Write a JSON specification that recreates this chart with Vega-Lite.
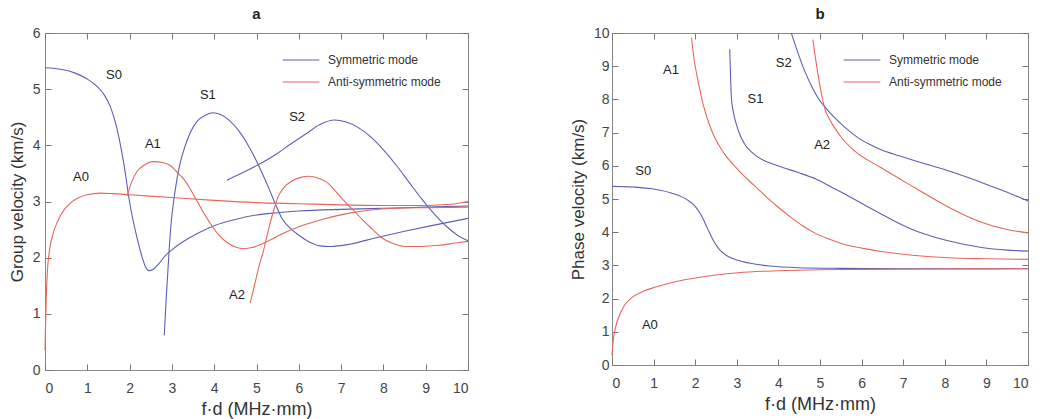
{
  "$schema": "https://vega.github.io/schema/vega-lite/v6.json",
  "padding": {"left": 7, "top": 6, "right": 4, "bottom": 0},
  "background": "white",
  "config": {
    "font": "Liberation Sans",
    "view": {"stroke": "#888", "strokeWidth": 1},
    "axis": {"grid": false, "domain": false, "offset": -6, "tickSize": 6, "tickColor": "#777", "tickWidth": 1, "labelColor": "#444", "labelFontSize": 14, "titleFontSize": 18, "titleFontWeight": "normal", "titleColor": "#333"},
    "title": {"fontSize": 15, "fontWeight": "bold", "offset": 4, "color": "#222"},
    "legend": {"labelFontSize": 12, "labelColor": "#333"}
  },
  "datasets": {
    "curves": [
      {"p":"a","m":"S0","t":"Symmetric mode","x":0,"y":5.38},{"p":"a","m":"S0","t":"Symmetric mode","x":0.4,"y":5.35},{"p":"a","m":"S0","t":"Symmetric mode","x":0.7,"y":5.29},{"p":"a","m":"S0","t":"Symmetric mode","x":1.0,"y":5.18},{"p":"a","m":"S0","t":"Symmetric mode","x":1.2,"y":5.07},{"p":"a","m":"S0","t":"Symmetric mode","x":1.4,"y":4.9},{"p":"a","m":"S0","t":"Symmetric mode","x":1.55,"y":4.68},{"p":"a","m":"S0","t":"Symmetric mode","x":1.7,"y":4.3},{"p":"a","m":"S0","t":"Symmetric mode","x":1.8,"y":3.94},{"p":"a","m":"S0","t":"Symmetric mode","x":1.9,"y":3.5},{"p":"a","m":"S0","t":"Symmetric mode","x":1.98,"y":3.08},{"p":"a","m":"S0","t":"Symmetric mode","x":2.1,"y":2.6},{"p":"a","m":"S0","t":"Symmetric mode","x":2.2,"y":2.28},{"p":"a","m":"S0","t":"Symmetric mode","x":2.3,"y":2.0},{"p":"a","m":"S0","t":"Symmetric mode","x":2.38,"y":1.83},{"p":"a","m":"S0","t":"Symmetric mode","x":2.45,"y":1.77},{"p":"a","m":"S0","t":"Symmetric mode","x":2.55,"y":1.79},{"p":"a","m":"S0","t":"Symmetric mode","x":2.7,"y":1.9},{"p":"a","m":"S0","t":"Symmetric mode","x":2.85,"y":2.04},{"p":"a","m":"S0","t":"Symmetric mode","x":3.0,"y":2.14},{"p":"a","m":"S0","t":"Symmetric mode","x":3.3,"y":2.3},{"p":"a","m":"S0","t":"Symmetric mode","x":3.6,"y":2.43},{"p":"a","m":"S0","t":"Symmetric mode","x":4.0,"y":2.57},{"p":"a","m":"S0","t":"Symmetric mode","x":4.5,"y":2.68},{"p":"a","m":"S0","t":"Symmetric mode","x":5.0,"y":2.76},{"p":"a","m":"S0","t":"Symmetric mode","x":5.5,"y":2.8},{"p":"a","m":"S0","t":"Symmetric mode","x":6,"y":2.83},{"p":"a","m":"S0","t":"Symmetric mode","x":7,"y":2.86},{"p":"a","m":"S0","t":"Symmetric mode","x":8,"y":2.88},{"p":"a","m":"S0","t":"Symmetric mode","x":9,"y":2.9},{"p":"a","m":"S0","t":"Symmetric mode","x":10,"y":2.92},

      {"p":"a","m":"S1","t":"Symmetric mode","x":2.82,"y":0.62},{"p":"a","m":"S1","t":"Symmetric mode","x":2.86,"y":1.2},{"p":"a","m":"S1","t":"Symmetric mode","x":2.9,"y":1.7},{"p":"a","m":"S1","t":"Symmetric mode","x":2.94,"y":2.2},{"p":"a","m":"S1","t":"Symmetric mode","x":2.98,"y":2.6},{"p":"a","m":"S1","t":"Symmetric mode","x":3.04,"y":3.0},{"p":"a","m":"S1","t":"Symmetric mode","x":3.12,"y":3.4},{"p":"a","m":"S1","t":"Symmetric mode","x":3.2,"y":3.7},{"p":"a","m":"S1","t":"Symmetric mode","x":3.3,"y":3.96},{"p":"a","m":"S1","t":"Symmetric mode","x":3.45,"y":4.25},{"p":"a","m":"S1","t":"Symmetric mode","x":3.6,"y":4.43},{"p":"a","m":"S1","t":"Symmetric mode","x":3.8,"y":4.54},{"p":"a","m":"S1","t":"Symmetric mode","x":3.97,"y":4.58},{"p":"a","m":"S1","t":"Symmetric mode","x":4.15,"y":4.55},{"p":"a","m":"S1","t":"Symmetric mode","x":4.35,"y":4.45},{"p":"a","m":"S1","t":"Symmetric mode","x":4.6,"y":4.24},{"p":"a","m":"S1","t":"Symmetric mode","x":4.85,"y":3.94},{"p":"a","m":"S1","t":"Symmetric mode","x":5.1,"y":3.56},{"p":"a","m":"S1","t":"Symmetric mode","x":5.3,"y":3.22},{"p":"a","m":"S1","t":"Symmetric mode","x":5.45,"y":2.95},{"p":"a","m":"S1","t":"Symmetric mode","x":5.6,"y":2.7},{"p":"a","m":"S1","t":"Symmetric mode","x":5.8,"y":2.52},{"p":"a","m":"S1","t":"Symmetric mode","x":6.0,"y":2.4},{"p":"a","m":"S1","t":"Symmetric mode","x":6.25,"y":2.28},{"p":"a","m":"S1","t":"Symmetric mode","x":6.5,"y":2.21},{"p":"a","m":"S1","t":"Symmetric mode","x":6.75,"y":2.2},{"p":"a","m":"S1","t":"Symmetric mode","x":7.2,"y":2.24},{"p":"a","m":"S1","t":"Symmetric mode","x":7.8,"y":2.35},{"p":"a","m":"S1","t":"Symmetric mode","x":8.5,"y":2.47},{"p":"a","m":"S1","t":"Symmetric mode","x":9.2,"y":2.58},{"p":"a","m":"S1","t":"Symmetric mode","x":10,"y":2.7},

      {"p":"a","m":"S2","t":"Symmetric mode","x":4.3,"y":3.38},{"p":"a","m":"S2","t":"Symmetric mode","x":4.8,"y":3.56},{"p":"a","m":"S2","t":"Symmetric mode","x":5.2,"y":3.72},{"p":"a","m":"S2","t":"Symmetric mode","x":5.5,"y":3.86},{"p":"a","m":"S2","t":"Symmetric mode","x":5.8,"y":4.02},{"p":"a","m":"S2","t":"Symmetric mode","x":6.2,"y":4.22},{"p":"a","m":"S2","t":"Symmetric mode","x":6.5,"y":4.37},{"p":"a","m":"S2","t":"Symmetric mode","x":6.85,"y":4.45},{"p":"a","m":"S2","t":"Symmetric mode","x":7.1,"y":4.42},{"p":"a","m":"S2","t":"Symmetric mode","x":7.4,"y":4.32},{"p":"a","m":"S2","t":"Symmetric mode","x":7.7,"y":4.15},{"p":"a","m":"S2","t":"Symmetric mode","x":8.0,"y":3.92},{"p":"a","m":"S2","t":"Symmetric mode","x":8.3,"y":3.65},{"p":"a","m":"S2","t":"Symmetric mode","x":8.6,"y":3.35},{"p":"a","m":"S2","t":"Symmetric mode","x":8.9,"y":3.05},{"p":"a","m":"S2","t":"Symmetric mode","x":9.2,"y":2.78},{"p":"a","m":"S2","t":"Symmetric mode","x":9.5,"y":2.55},{"p":"a","m":"S2","t":"Symmetric mode","x":9.75,"y":2.4},{"p":"a","m":"S2","t":"Symmetric mode","x":10,"y":2.3},

      {"p":"a","m":"A0","t":"Anti-symmetric mode","x":0,"y":0.35},{"p":"a","m":"A0","t":"Anti-symmetric mode","x":0.01,"y":0.7},{"p":"a","m":"A0","t":"Anti-symmetric mode","x":0.03,"y":1.3},{"p":"a","m":"A0","t":"Anti-symmetric mode","x":0.06,"y":1.8},{"p":"a","m":"A0","t":"Anti-symmetric mode","x":0.1,"y":2.1},{"p":"a","m":"A0","t":"Anti-symmetric mode","x":0.2,"y":2.45},{"p":"a","m":"A0","t":"Anti-symmetric mode","x":0.3,"y":2.65},{"p":"a","m":"A0","t":"Anti-symmetric mode","x":0.45,"y":2.85},{"p":"a","m":"A0","t":"Anti-symmetric mode","x":0.6,"y":2.97},{"p":"a","m":"A0","t":"Anti-symmetric mode","x":0.8,"y":3.07},{"p":"a","m":"A0","t":"Anti-symmetric mode","x":1.0,"y":3.12},{"p":"a","m":"A0","t":"Anti-symmetric mode","x":1.3,"y":3.15},{"p":"a","m":"A0","t":"Anti-symmetric mode","x":1.6,"y":3.14},{"p":"a","m":"A0","t":"Anti-symmetric mode","x":2.0,"y":3.12},{"p":"a","m":"A0","t":"Anti-symmetric mode","x":3,"y":3.07},{"p":"a","m":"A0","t":"Anti-symmetric mode","x":4,"y":3.02},{"p":"a","m":"A0","t":"Anti-symmetric mode","x":5,"y":2.98},{"p":"a","m":"A0","t":"Anti-symmetric mode","x":6,"y":2.96},{"p":"a","m":"A0","t":"Anti-symmetric mode","x":7,"y":2.94},{"p":"a","m":"A0","t":"Anti-symmetric mode","x":8,"y":2.93},{"p":"a","m":"A0","t":"Anti-symmetric mode","x":9,"y":2.93},{"p":"a","m":"A0","t":"Anti-symmetric mode","x":9.6,"y":2.95},{"p":"a","m":"A0","t":"Anti-symmetric mode","x":10,"y":3.0},

      {"p":"a","m":"A1","t":"Anti-symmetric mode","x":1.94,"y":3.1},{"p":"a","m":"A1","t":"Anti-symmetric mode","x":2.05,"y":3.35},{"p":"a","m":"A1","t":"Anti-symmetric mode","x":2.17,"y":3.53},{"p":"a","m":"A1","t":"Anti-symmetric mode","x":2.35,"y":3.65},{"p":"a","m":"A1","t":"Anti-symmetric mode","x":2.57,"y":3.71},{"p":"a","m":"A1","t":"Anti-symmetric mode","x":2.8,"y":3.69},{"p":"a","m":"A1","t":"Anti-symmetric mode","x":2.96,"y":3.64},{"p":"a","m":"A1","t":"Anti-symmetric mode","x":3.15,"y":3.5},{"p":"a","m":"A1","t":"Anti-symmetric mode","x":3.3,"y":3.38},{"p":"a","m":"A1","t":"Anti-symmetric mode","x":3.45,"y":3.2},{"p":"a","m":"A1","t":"Anti-symmetric mode","x":3.6,"y":3.0},{"p":"a","m":"A1","t":"Anti-symmetric mode","x":3.75,"y":2.8},{"p":"a","m":"A1","t":"Anti-symmetric mode","x":3.9,"y":2.62},{"p":"a","m":"A1","t":"Anti-symmetric mode","x":4.1,"y":2.41},{"p":"a","m":"A1","t":"Anti-symmetric mode","x":4.3,"y":2.27},{"p":"a","m":"A1","t":"Anti-symmetric mode","x":4.5,"y":2.19},{"p":"a","m":"A1","t":"Anti-symmetric mode","x":4.7,"y":2.16},{"p":"a","m":"A1","t":"Anti-symmetric mode","x":4.9,"y":2.18},{"p":"a","m":"A1","t":"Anti-symmetric mode","x":5.2,"y":2.27},{"p":"a","m":"A1","t":"Anti-symmetric mode","x":5.6,"y":2.42},{"p":"a","m":"A1","t":"Anti-symmetric mode","x":6.0,"y":2.55},{"p":"a","m":"A1","t":"Anti-symmetric mode","x":6.5,"y":2.67},{"p":"a","m":"A1","t":"Anti-symmetric mode","x":7.1,"y":2.78},{"p":"a","m":"A1","t":"Anti-symmetric mode","x":7.7,"y":2.85},{"p":"a","m":"A1","t":"Anti-symmetric mode","x":8.3,"y":2.88},{"p":"a","m":"A1","t":"Anti-symmetric mode","x":9,"y":2.89},{"p":"a","m":"A1","t":"Anti-symmetric mode","x":10,"y":2.9},

      {"p":"a","m":"A2","t":"Anti-symmetric mode","x":4.85,"y":1.19},{"p":"a","m":"A2","t":"Anti-symmetric mode","x":4.95,"y":1.5},{"p":"a","m":"A2","t":"Anti-symmetric mode","x":5.05,"y":1.82},{"p":"a","m":"A2","t":"Anti-symmetric mode","x":5.17,"y":2.14},{"p":"a","m":"A2","t":"Anti-symmetric mode","x":5.3,"y":2.55},{"p":"a","m":"A2","t":"Anti-symmetric mode","x":5.42,"y":2.88},{"p":"a","m":"A2","t":"Anti-symmetric mode","x":5.52,"y":3.1},{"p":"a","m":"A2","t":"Anti-symmetric mode","x":5.65,"y":3.25},{"p":"a","m":"A2","t":"Anti-symmetric mode","x":5.85,"y":3.37},{"p":"a","m":"A2","t":"Anti-symmetric mode","x":6.05,"y":3.43},{"p":"a","m":"A2","t":"Anti-symmetric mode","x":6.25,"y":3.45},{"p":"a","m":"A2","t":"Anti-symmetric mode","x":6.45,"y":3.42},{"p":"a","m":"A2","t":"Anti-symmetric mode","x":6.65,"y":3.35},{"p":"a","m":"A2","t":"Anti-symmetric mode","x":6.85,"y":3.2},{"p":"a","m":"A2","t":"Anti-symmetric mode","x":7.0,"y":3.07},{"p":"a","m":"A2","t":"Anti-symmetric mode","x":7.15,"y":2.95},{"p":"a","m":"A2","t":"Anti-symmetric mode","x":7.35,"y":2.8},{"p":"a","m":"A2","t":"Anti-symmetric mode","x":7.55,"y":2.64},{"p":"a","m":"A2","t":"Anti-symmetric mode","x":7.75,"y":2.5},{"p":"a","m":"A2","t":"Anti-symmetric mode","x":7.95,"y":2.36},{"p":"a","m":"A2","t":"Anti-symmetric mode","x":8.2,"y":2.26},{"p":"a","m":"A2","t":"Anti-symmetric mode","x":8.5,"y":2.2},{"p":"a","m":"A2","t":"Anti-symmetric mode","x":8.9,"y":2.2},{"p":"a","m":"A2","t":"Anti-symmetric mode","x":9.3,"y":2.22},{"p":"a","m":"A2","t":"Anti-symmetric mode","x":9.7,"y":2.26},{"p":"a","m":"A2","t":"Anti-symmetric mode","x":10,"y":2.29},

      {"p":"b","m":"S0","t":"Symmetric mode","x":0,"y":5.38},{"p":"b","m":"S0","t":"Symmetric mode","x":0.5,"y":5.36},{"p":"b","m":"S0","t":"Symmetric mode","x":1.0,"y":5.3},{"p":"b","m":"S0","t":"Symmetric mode","x":1.5,"y":5.15},{"p":"b","m":"S0","t":"Symmetric mode","x":1.8,"y":4.98},{"p":"b","m":"S0","t":"Symmetric mode","x":2.0,"y":4.78},{"p":"b","m":"S0","t":"Symmetric mode","x":2.15,"y":4.5},{"p":"b","m":"S0","t":"Symmetric mode","x":2.3,"y":4.1},{"p":"b","m":"S0","t":"Symmetric mode","x":2.45,"y":3.72},{"p":"b","m":"S0","t":"Symmetric mode","x":2.6,"y":3.45},{"p":"b","m":"S0","t":"Symmetric mode","x":2.75,"y":3.3},{"p":"b","m":"S0","t":"Symmetric mode","x":3.0,"y":3.16},{"p":"b","m":"S0","t":"Symmetric mode","x":3.3,"y":3.07},{"p":"b","m":"S0","t":"Symmetric mode","x":3.8,"y":2.98},{"p":"b","m":"S0","t":"Symmetric mode","x":4.47,"y":2.93},{"p":"b","m":"S0","t":"Symmetric mode","x":5.5,"y":2.91},{"p":"b","m":"S0","t":"Symmetric mode","x":7,"y":2.9},{"p":"b","m":"S0","t":"Symmetric mode","x":10,"y":2.9},

      {"p":"b","m":"S1","t":"Symmetric mode","x":2.83,"y":9.51},{"p":"b","m":"S1","t":"Symmetric mode","x":2.85,"y":8.7},{"p":"b","m":"S1","t":"Symmetric mode","x":2.87,"y":8.05},{"p":"b","m":"S1","t":"Symmetric mode","x":2.92,"y":7.6},{"p":"b","m":"S1","t":"Symmetric mode","x":2.99,"y":7.25},{"p":"b","m":"S1","t":"Symmetric mode","x":3.08,"y":6.92},{"p":"b","m":"S1","t":"Symmetric mode","x":3.19,"y":6.65},{"p":"b","m":"S1","t":"Symmetric mode","x":3.35,"y":6.42},{"p":"b","m":"S1","t":"Symmetric mode","x":3.51,"y":6.26},{"p":"b","m":"S1","t":"Symmetric mode","x":3.99,"y":6.0},{"p":"b","m":"S1","t":"Symmetric mode","x":4.47,"y":5.8},{"p":"b","m":"S1","t":"Symmetric mode","x":4.9,"y":5.6},{"p":"b","m":"S1","t":"Symmetric mode","x":5.27,"y":5.36},{"p":"b","m":"S1","t":"Symmetric mode","x":5.67,"y":5.1},{"p":"b","m":"S1","t":"Symmetric mode","x":6.07,"y":4.82},{"p":"b","m":"S1","t":"Symmetric mode","x":6.47,"y":4.55},{"p":"b","m":"S1","t":"Symmetric mode","x":6.88,"y":4.28},{"p":"b","m":"S1","t":"Symmetric mode","x":7.28,"y":4.05},{"p":"b","m":"S1","t":"Symmetric mode","x":7.68,"y":3.88},{"p":"b","m":"S1","t":"Symmetric mode","x":8.08,"y":3.74},{"p":"b","m":"S1","t":"Symmetric mode","x":8.88,"y":3.54},{"p":"b","m":"S1","t":"Symmetric mode","x":9.5,"y":3.46},{"p":"b","m":"S1","t":"Symmetric mode","x":10,"y":3.43},

      {"p":"b","m":"S2","t":"Symmetric mode","x":4.31,"y":10.0},{"p":"b","m":"S2","t":"Symmetric mode","x":4.47,"y":9.4},{"p":"b","m":"S2","t":"Symmetric mode","x":4.63,"y":8.86},{"p":"b","m":"S2","t":"Symmetric mode","x":4.79,"y":8.42},{"p":"b","m":"S2","t":"Symmetric mode","x":4.95,"y":8.05},{"p":"b","m":"S2","t":"Symmetric mode","x":5.15,"y":7.72},{"p":"b","m":"S2","t":"Symmetric mode","x":5.35,"y":7.45},{"p":"b","m":"S2","t":"Symmetric mode","x":5.67,"y":7.08},{"p":"b","m":"S2","t":"Symmetric mode","x":5.91,"y":6.85},{"p":"b","m":"S2","t":"Symmetric mode","x":6.2,"y":6.64},{"p":"b","m":"S2","t":"Symmetric mode","x":6.47,"y":6.48},{"p":"b","m":"S2","t":"Symmetric mode","x":6.9,"y":6.3},{"p":"b","m":"S2","t":"Symmetric mode","x":7.28,"y":6.15},{"p":"b","m":"S2","t":"Symmetric mode","x":8.08,"y":5.85},{"p":"b","m":"S2","t":"Symmetric mode","x":8.88,"y":5.5},{"p":"b","m":"S2","t":"Symmetric mode","x":9.5,"y":5.2},{"p":"b","m":"S2","t":"Symmetric mode","x":10,"y":4.94},

      {"p":"b","m":"A0","t":"Anti-symmetric mode","x":0,"y":0.3},{"p":"b","m":"A0","t":"Anti-symmetric mode","x":0.03,"y":0.75},{"p":"b","m":"A0","t":"Anti-symmetric mode","x":0.08,"y":1.1},{"p":"b","m":"A0","t":"Anti-symmetric mode","x":0.15,"y":1.4},{"p":"b","m":"A0","t":"Anti-symmetric mode","x":0.3,"y":1.8},{"p":"b","m":"A0","t":"Anti-symmetric mode","x":0.5,"y":2.05},{"p":"b","m":"A0","t":"Anti-symmetric mode","x":0.75,"y":2.22},{"p":"b","m":"A0","t":"Anti-symmetric mode","x":1.03,"y":2.34},{"p":"b","m":"A0","t":"Anti-symmetric mode","x":1.5,"y":2.5},{"p":"b","m":"A0","t":"Anti-symmetric mode","x":2.0,"y":2.62},{"p":"b","m":"A0","t":"Anti-symmetric mode","x":2.5,"y":2.71},{"p":"b","m":"A0","t":"Anti-symmetric mode","x":3.03,"y":2.78},{"p":"b","m":"A0","t":"Anti-symmetric mode","x":4,"y":2.84},{"p":"b","m":"A0","t":"Anti-symmetric mode","x":5,"y":2.87},{"p":"b","m":"A0","t":"Anti-symmetric mode","x":6,"y":2.88},{"p":"b","m":"A0","t":"Anti-symmetric mode","x":8,"y":2.89},{"p":"b","m":"A0","t":"Anti-symmetric mode","x":10,"y":2.9},

      {"p":"b","m":"A1","t":"Anti-symmetric mode","x":1.91,"y":9.86},{"p":"b","m":"A1","t":"Anti-symmetric mode","x":1.98,"y":9.15},{"p":"b","m":"A1","t":"Anti-symmetric mode","x":2.07,"y":8.55},{"p":"b","m":"A1","t":"Anti-symmetric mode","x":2.18,"y":7.9},{"p":"b","m":"A1","t":"Anti-symmetric mode","x":2.31,"y":7.35},{"p":"b","m":"A1","t":"Anti-symmetric mode","x":2.47,"y":6.85},{"p":"b","m":"A1","t":"Anti-symmetric mode","x":2.67,"y":6.42},{"p":"b","m":"A1","t":"Anti-symmetric mode","x":3.03,"y":5.88},{"p":"b","m":"A1","t":"Anti-symmetric mode","x":3.27,"y":5.58},{"p":"b","m":"A1","t":"Anti-symmetric mode","x":3.51,"y":5.3},{"p":"b","m":"A1","t":"Anti-symmetric mode","x":3.75,"y":5.02},{"p":"b","m":"A1","t":"Anti-symmetric mode","x":3.99,"y":4.76},{"p":"b","m":"A1","t":"Anti-symmetric mode","x":4.31,"y":4.44},{"p":"b","m":"A1","t":"Anti-symmetric mode","x":4.6,"y":4.18},{"p":"b","m":"A1","t":"Anti-symmetric mode","x":4.87,"y":3.98},{"p":"b","m":"A1","t":"Anti-symmetric mode","x":5.2,"y":3.8},{"p":"b","m":"A1","t":"Anti-symmetric mode","x":5.51,"y":3.66},{"p":"b","m":"A1","t":"Anti-symmetric mode","x":6.0,"y":3.52},{"p":"b","m":"A1","t":"Anti-symmetric mode","x":6.47,"y":3.42},{"p":"b","m":"A1","t":"Anti-symmetric mode","x":7.28,"y":3.3},{"p":"b","m":"A1","t":"Anti-symmetric mode","x":8.08,"y":3.23},{"p":"b","m":"A1","t":"Anti-symmetric mode","x":9,"y":3.2},{"p":"b","m":"A1","t":"Anti-symmetric mode","x":10,"y":3.18},

      {"p":"b","m":"A2","t":"Anti-symmetric mode","x":4.83,"y":9.8},{"p":"b","m":"A2","t":"Anti-symmetric mode","x":4.89,"y":9.25},{"p":"b","m":"A2","t":"Anti-symmetric mode","x":4.95,"y":8.76},{"p":"b","m":"A2","t":"Anti-symmetric mode","x":5.03,"y":8.2},{"p":"b","m":"A2","t":"Anti-symmetric mode","x":5.11,"y":7.75},{"p":"b","m":"A2","t":"Anti-symmetric mode","x":5.23,"y":7.4},{"p":"b","m":"A2","t":"Anti-symmetric mode","x":5.35,"y":7.15},{"p":"b","m":"A2","t":"Anti-symmetric mode","x":5.55,"y":6.8},{"p":"b","m":"A2","t":"Anti-symmetric mode","x":5.83,"y":6.45},{"p":"b","m":"A2","t":"Anti-symmetric mode","x":6.47,"y":5.94},{"p":"b","m":"A2","t":"Anti-symmetric mode","x":7.28,"y":5.34},{"p":"b","m":"A2","t":"Anti-symmetric mode","x":8.08,"y":4.76},{"p":"b","m":"A2","t":"Anti-symmetric mode","x":8.88,"y":4.3},{"p":"b","m":"A2","t":"Anti-symmetric mode","x":9.5,"y":4.08},{"p":"b","m":"A2","t":"Anti-symmetric mode","x":10,"y":3.98}
    ],
    "labels": [
      {"p":"a","label":"S0","x":1.63,"y":5.25},{"p":"a","label":"S1","x":3.85,"y":4.9},{"p":"a","label":"S2","x":5.96,"y":4.5},{"p":"a","label":"A1","x":2.55,"y":4.02},{"p":"a","label":"A0","x":0.85,"y":3.43},{"p":"a","label":"A2","x":4.54,"y":1.33},
      {"p":"b","label":"A1","x":1.42,"y":8.89},{"p":"b","label":"S1","x":3.45,"y":8.0},{"p":"b","label":"S2","x":4.13,"y":9.09},{"p":"b","label":"A2","x":5.05,"y":6.63},{"p":"b","label":"S0","x":0.75,"y":5.84},{"p":"b","label":"A0","x":0.91,"y":1.2}
    ]
  },
  "resolve": {"legend": {"color": "independent"}},
  "spacing": 97,
  "hconcat": [
    {
      "width": 423, "height": 337,
      "title": {"text": "a"},
      "resolve": {"axis": {"x": "independent", "y": "independent"}},
      "layer": [
        {
          "data": {"name": "curves"},
          "transform": [{"filter": "datum.p === 'a'"}],
          "mark": {"type": "line", "strokeWidth": 1.1, "interpolate": "monotone"},
          "encoding": {
            "x": {"field": "x", "type": "quantitative", "scale": {"domain": [0, 10], "nice": false}, "axis": {"title": "f·d (MHz·mm)", "values": [0,1,2,3,4,5,6,7,8,9,10], "labelPadding": 11, "titlePadding": 5}},
            "y": {"field": "y", "type": "quantitative", "scale": {"domain": [0, 6], "nice": false}, "axis": {"title": "Group velocity (km/s)", "titleFontSize": 17, "values": [0,1,2,3,4,5,6], "labelPadding": 5, "titlePadding": 6}},
            "color": {"field": "t", "type": "nominal", "scale": {"domain": ["Symmetric mode", "Anti-symmetric mode"], "range": ["#5c60b4", "#e8655a"]},
              "legend": {"title": null, "orient": "none", "legendX": 249, "legendY": 20, "symbolType": "M-3,0H3", "symbolSize": 150, "symbolStrokeWidth": 1.1, "rowPadding": 9, "labelOffset": 20}},
            "detail": {"field": "m"}
          }
        },
        {
          "data": {"name": "labels"},
          "transform": [{"filter": "datum.p === 'a'"}],
          "mark": {"type": "text", "fontSize": 13, "color": "#222"},
          "encoding": {
            "x": {"field": "x", "type": "quantitative", "scale": {"domain": [0, 10], "nice": false}, "axis": {"orient": "top", "title": null, "labels": false, "values": [0,1,2,3,4,5,6,7,8,9,10]}},
            "y": {"field": "y", "type": "quantitative", "scale": {"domain": [0, 6], "nice": false}, "axis": {"orient": "right", "title": null, "labels": false, "values": [0,1,2,3,4,5,6]}},
            "text": {"field": "label"}
          }
        }
      ]
    },
    {
      "width": 416, "height": 332,
      "title": {"text": "b"},
      "resolve": {"axis": {"x": "independent", "y": "independent"}},
      "layer": [
        {
          "data": {"name": "curves"},
          "transform": [{"filter": "datum.p === 'b'"}],
          "mark": {"type": "line", "strokeWidth": 1.1, "interpolate": "monotone"},
          "encoding": {
            "x": {"field": "x", "type": "quantitative", "scale": {"domain": [0, 10], "nice": false}, "axis": {"title": "f·d (MHz·mm)", "values": [0,1,2,3,4,5,6,7,8,9,10], "labelPadding": 11, "titlePadding": 5}},
            "y": {"field": "y", "type": "quantitative", "scale": {"domain": [0, 10], "nice": false}, "axis": {"title": "Phase velocity (km/s)", "titleFontSize": 17, "values": [0,1,2,3,4,5,6,7,8,9,10], "labelPadding": 3, "titlePadding": 6}},
            "color": {"field": "t", "type": "nominal", "scale": {"domain": ["Symmetric mode", "Anti-symmetric mode"], "range": ["#5c60b4", "#e8655a"]},
              "legend": {"title": null, "orient": "none", "legendX": 243, "legendY": 20, "symbolType": "M-3,0H3", "symbolSize": 150, "symbolStrokeWidth": 1.1, "rowPadding": 9, "labelOffset": 20}},
            "detail": {"field": "m"}
          }
        },
        {
          "data": {"name": "labels"},
          "transform": [{"filter": "datum.p === 'b'"}],
          "mark": {"type": "text", "fontSize": 13, "color": "#222"},
          "encoding": {
            "x": {"field": "x", "type": "quantitative", "scale": {"domain": [0, 10], "nice": false}, "axis": {"orient": "top", "title": null, "labels": false, "values": [0,1,2,3,4,5,6,7,8,9,10]}},
            "y": {"field": "y", "type": "quantitative", "scale": {"domain": [0, 10], "nice": false}, "axis": {"orient": "right", "title": null, "labels": false, "values": [0,1,2,3,4,5,6,7,8,9,10]}},
            "text": {"field": "label"}
          }
        }
      ]
    }
  ]
}
